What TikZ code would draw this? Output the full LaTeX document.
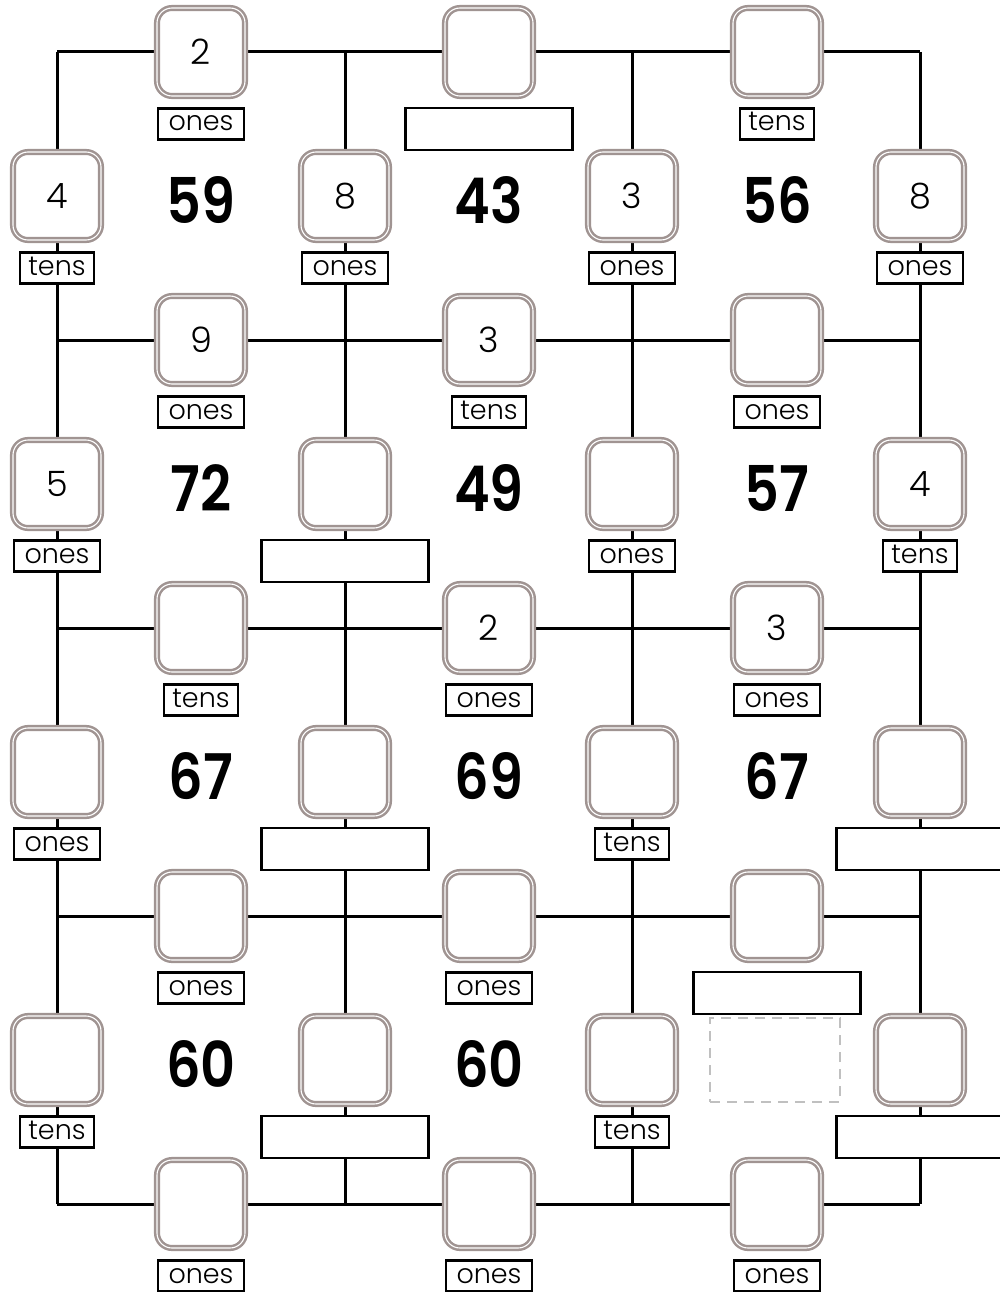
\documentclass[tikz,border=0pt]{standalone}
\usepackage{fontspec}
\setmainfont{Poppins}
\newfontfamily\thinfont{Poppins}[UprightFont=* Light]
\newfontfamily\heavyfont{Poppins}[UprightFont=* SemiBold, FakeStretch=0.86]
\definecolor{boxgray}{RGB}{160,148,146}
\definecolor{dashgray}{RGB}{192,192,192}
\tikzset{
  grid line/.style={line width=3pt, black},
  cell/.style={draw=boxgray, double=white, double distance=1.1pt, line width=2.5pt,
    fill=white, rounded corners=15pt, minimum size=88pt, inner sep=0pt,
    font=\thinfont\fontsize{35}{35}\selectfont},
  lbl/.style={draw=black, line width=2.2pt, fill=white, minimum height=31pt, inner sep=0pt,
    text height=14pt, text depth=0pt, font=\thinfont\fontsize{27}{27}\selectfont},
  oneslbl/.style={lbl, minimum width=86pt},
  tenslbl/.style={lbl, minimum width=74pt},
  blank/.style={draw=black, line width=2.2pt, fill=white, minimum width=167pt,
    minimum height=42pt, inner sep=0pt},
  big/.style={inner sep=0pt, font=\heavyfont\fontsize{63}{63}\selectfont},
  ghost/.style={draw=dashgray, line width=2pt, dash pattern=on 10pt off 7pt,
    minimum width=130pt, minimum height=84pt, inner sep=0pt}
}
\begin{document}
\begin{tikzpicture}[x=1pt,y=-1pt]
\useasboundingbox (0,0) rectangle (999,1292);
% grid junctions
\coordinate (a0) at (57,52);   \coordinate (b0) at (345,52);   \coordinate (c0) at (632,52);   \coordinate (d0) at (920,52);
\coordinate (a1) at (57,340);  \coordinate (b1) at (345,340);  \coordinate (c1) at (632,340);  \coordinate (d1) at (920,340);
\coordinate (a2) at (57,628);  \coordinate (b2) at (345,628);  \coordinate (c2) at (632,628);  \coordinate (d2) at (920,628);
\coordinate (a3) at (57,916);  \coordinate (b3) at (345,916);  \coordinate (c3) at (632,916);  \coordinate (d3) at (920,916);
\coordinate (a4) at (57,1204); \coordinate (b4) at (345,1204); \coordinate (c4) at (632,1204); \coordinate (d4) at (920,1204);
% grid lines
\foreach \r in {0,...,4} {\draw[grid line] (a\r) -- (d\r);}
\foreach \c in {a,b,c,d} {\draw[grid line] (\c0) -- (\c4);}

% ---- boxes on horizontal lines ----
\node[cell] (h01) at (201,52) {2};   \node[oneslbl] (lh01) at (201,124) {ones};
\node[cell] (h02) at (489,52) {};    \node[blank] (lh02) at (489,129) {};
\node[cell] (h03) at (777,52) {};    \node[tenslbl] (lh03) at (777,124) {tens};

\node[cell] (h11) at (201,340) {9};  \node[oneslbl] (lh11) at (201,412) {ones};
\node[cell] (h12) at (489,340) {3};  \node[tenslbl] (lh12) at (489,412) {tens};
\node[cell] (h13) at (777,340) {};   \node[oneslbl] (lh13) at (777,412) {ones};

\node[cell] (h21) at (201,628) {};   \node[tenslbl] (lh21) at (201,700) {tens};
\node[cell] (h22) at (489,628) {2};  \node[oneslbl] (lh22) at (489,700) {ones};
\node[cell] (h23) at (777,628) {3};  \node[oneslbl] (lh23) at (777,700) {ones};

\node[cell] (h31) at (201,916) {};   \node[oneslbl] (lh31) at (201,988) {ones};
\node[cell] (h32) at (489,916) {};   \node[oneslbl] (lh32) at (489,988) {ones};
\node[cell] (h33) at (777,916) {};   \node[blank] (lh33) at (777,993) {};

\node[cell] (h41) at (201,1204) {};  \node[oneslbl] (lh41) at (201,1276) {ones};
\node[cell] (h42) at (489,1204) {};  \node[oneslbl] (lh42) at (489,1276) {ones};
\node[cell] (h43) at (777,1204) {};  \node[oneslbl] (lh43) at (777,1276) {ones};

% ---- boxes on vertical lines ----
\node[cell] (v1a) at (57,196) {4};   \node[tenslbl] (lv1a) at (57,268) {tens};
\node[cell] (v1b) at (345,196) {8};  \node[oneslbl] (lv1b) at (345,268) {ones};
\node[cell] (v1c) at (632,196) {3};  \node[oneslbl] (lv1c) at (632,268) {ones};
\node[cell] (v1d) at (920,196) {8};  \node[oneslbl] (lv1d) at (920,268) {ones};

\node[cell] (v2a) at (57,484) {5};   \node[oneslbl] (lv2a) at (57,556) {ones};
\node[cell] (v2b) at (345,484) {};   \node[blank] (lv2b) at (345,561) {};
\node[cell] (v2c) at (632,484) {};   \node[oneslbl] (lv2c) at (632,556) {ones};
\node[cell] (v2d) at (920,484) {4};  \node[tenslbl] (lv2d) at (920,556) {tens};

\node[cell] (v3a) at (57,772) {};    \node[oneslbl] (lv3a) at (57,844) {ones};
\node[cell] (v3b) at (345,772) {};   \node[blank] (lv3b) at (345,849) {};
\node[cell] (v3c) at (632,772) {};   \node[tenslbl] (lv3c) at (632,844) {tens};
\node[cell] (v3d) at (920,772) {};   \node[blank] (lv3d) at (920,849) {};

\node[cell] (v4a) at (57,1060) {};   \node[tenslbl] (lv4a) at (57,1132) {tens};
\node[cell] (v4b) at (345,1060) {};  \node[blank] (lv4b) at (345,1137) {};
\node[cell] (v4c) at (632,1060) {};  \node[tenslbl] (lv4c) at (632,1132) {tens};
\node[cell] (v4d) at (920,1060) {};  \node[blank] (lv4d) at (920,1137) {};

% ---- numbers in the cells ----
\node[big] (n11) at (201,200) {59};
\node[big] (n12) at (489,200) {43};
\node[big] (n13) at (777,200) {56};
\node[big] (n21) at (201,488) {72};
\node[big] (n22) at (489,488) {49};
\node[big] (n23) at (777,488) {57};
\node[big] (n31) at (201,776) {67};
\node[big] (n32) at (489,776) {69};
\node[big] (n33) at (777,776) {67};
\node[big] (n41) at (201,1064) {60};
\node[big] (n42) at (489,1064) {60};
\node[ghost] (n43) at (775,1060) {};
\end{tikzpicture}
\end{document}
